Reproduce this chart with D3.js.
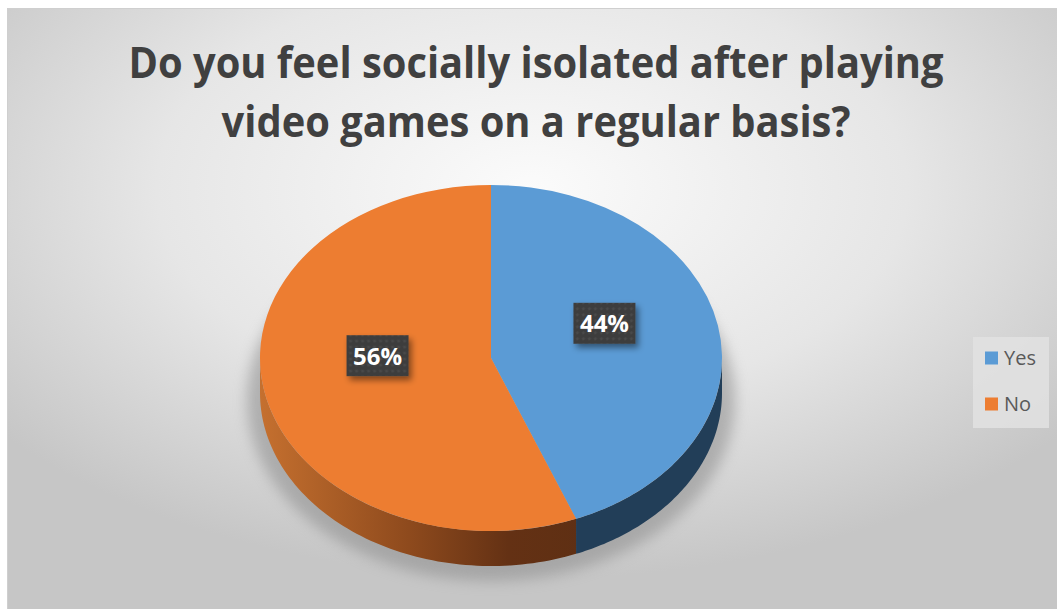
<!DOCTYPE html>
<html>
<head>
<meta charset="utf-8">
<script src="https://cdn.jsdelivr.net/npm/d3@7/dist/d3.min.js"></script>
<style>
  html, body { margin: 0; padding: 0; background: #ffffff; }
  svg { display: block; }
</style>
</head>
<body>
<svg id="chart" width="1057" height="609"></svg>
<script>
// Survey answers
const categories = ["Yes", "No"];
const values = [44, 56];
const titleLines = ["Do you feel socially isolated after playing", "video games on a regular basis?"];

const topColors = { Yes: "#5b9bd5", No: "#ed7d31" };

const W = 1057, H = 609;
const svg = d3.select("#chart");
const defs = svg.append("defs");

// Chart-area background: soft radial grey gradient
const bg = defs.append("radialGradient").attr("id", "bgGrad")
  .attr("cx", "50%").attr("cy", "30%").attr("r", "65%");
bg.append("stop").attr("offset", "0%").attr("stop-color", "#fbfbfb");
bg.append("stop").attr("offset", "55%").attr("stop-color", "#e6e6e6");
bg.append("stop").attr("offset", "100%").attr("stop-color", "#c6c6c6");

svg.append("rect").attr("x", 7).attr("y", 8).attr("width", W - 7).attr("height", H - 8)
  .attr("fill", "url(#bgGrad)");
svg.append("path").attr("d", `M7.5,${H} V8.5 H${W}`)
  .attr("fill", "none").attr("stroke", "#cfcfcf").attr("stroke-width", 1);

// Title (slightly condensed bold face)
const title = svg.append("g")
  .attr("transform", "translate(536,0) scale(0.927,1)")
  .append("text")
  .attr("text-anchor", "middle")
  .attr("font-family", "'Open Sans', sans-serif")
  .attr("font-weight", "bold")
  .attr("font-size", 43)
  .attr("fill", "#404040");
titleLines.forEach((t, i) => {
  title.append("tspan").attr("x", 0).attr("y", 78 + i * 59).text(t);
});

// Pie geometry (flattened ellipse with visible side wall)
const cx = 491, cy = 358, rx = 231, ry = 173, depth = 35;

const pie = d3.pie().sort(null).value(d => d.value);
const data = categories.map((c, i) => ({ name: c, value: values[i] }));
const arcs = pie(data);

const px = a => cx + rx * Math.sin(a);
const py = (a, dy = 0) => cy - ry * Math.cos(a) + dy;

// Soft shadow beneath the pie
const blur = defs.append("filter").attr("id", "pieShadow")
  .attr("x", "-20%").attr("y", "-20%").attr("width", "140%").attr("height", "140%");
blur.append("feGaussianBlur").attr("stdDeviation", 7);
svg.append("ellipse")
  .attr("cx", cx).attr("cy", cy + 42).attr("rx", rx + 13).attr("ry", ry + 8)
  .attr("fill", "#8a8a8a").attr("opacity", 0.55)
  .attr("filter", "url(#pieShadow)");

// Side wall gradients
const sideNo = defs.append("linearGradient").attr("id", "sideNo")
  .attr("gradientUnits", "userSpaceOnUse")
  .attr("x1", cx - rx).attr("y1", 0).attr("x2", cx + 100).attr("y2", 0);
sideNo.append("stop").attr("offset", "0%").attr("stop-color", "#c5702f");
sideNo.append("stop").attr("offset", "45%").attr("stop-color", "#8e4a1d");
sideNo.append("stop").attr("offset", "75%").attr("stop-color", "#643114");
sideNo.append("stop").attr("offset", "100%").attr("stop-color", "#5e2f13");
const sideColors = { Yes: "#223e58", No: "url(#sideNo)" };

// Side wall: only the front half (angles between PI/2 and 3PI/2) is visible
function sidePath(a0, a1) {
  const s = Math.max(a0, Math.PI / 2), e = Math.min(a1, 3 * Math.PI / 2);
  if (e <= s) return null;
  const n = 80, pts = [];
  for (let i = 0; i <= n; i++) { const a = s + (e - s) * i / n; pts.push([px(a), py(a)]); }
  for (let i = n; i >= 0; i--) { const a = s + (e - s) * i / n; pts.push([px(a), py(a, depth)]); }
  return d3.line()(pts) + "Z";
}

svg.append("g").selectAll("path").data(arcs).join("path")
  .attr("d", d => sidePath(d.startAngle, d.endAngle))
  .attr("fill", d => sideColors[d.data.name]);

// Top face: d3.arc drawn on a circle, squashed vertically into the ellipse
const arc = d3.arc().innerRadius(0).outerRadius(rx);
svg.append("g")
  .attr("transform", `translate(${cx},${cy}) scale(1,${ry / rx})`)
  .selectAll("path").data(arcs).join("path")
  .attr("d", arc)
  .attr("fill", d => topColors[d.data.name]);

// Data labels: dark textured boxes with drop shadow
const dots = defs.append("pattern").attr("id", "dots")
  .attr("width", 6).attr("height", 6).attr("patternUnits", "userSpaceOnUse");
dots.append("rect").attr("width", 6).attr("height", 6).attr("fill", "#3d3d3d");
dots.append("circle").attr("cx", 3).attr("cy", 3).attr("r", 1.4).attr("fill", "#4a4a4a");

const lblShadow = defs.append("filter").attr("id", "lblShadow")
  .attr("x", "-30%").attr("y", "-30%").attr("width", "170%").attr("height", "170%");
lblShadow.append("feDropShadow").attr("dx", 3).attr("dy", 4).attr("stdDeviation", 3)
  .attr("flood-color", "#000").attr("flood-opacity", 0.45);

const total = d3.sum(values);
const labels = svg.append("g").selectAll("g").data(arcs).join("g")
  .attr("transform", d => {
    const m = (d.startAngle + d.endAngle) / 2;
    return `translate(${cx + 0.5 * rx * Math.sin(m)},${cy - 0.5 * ry * Math.cos(m) - 18})`;
  });
labels.append("rect")
  .attr("x", -31).attr("y", -21).attr("width", 62).attr("height", 41)
  .attr("fill", "url(#dots)").attr("filter", "url(#lblShadow)");
labels.append("text")
  .attr("text-anchor", "middle").attr("dy", "0.35em")
  .attr("font-family", "'Open Sans', sans-serif").attr("font-weight", "bold")
  .attr("font-size", 24).attr("fill", "#ffffff")
  .text(d => Math.round(d.data.value / total * 100) + "%");

// Legend
const legend = svg.append("g");
legend.append("rect").attr("x", 973).attr("y", 337).attr("width", 76).attr("height", 91)
  .attr("fill", "#e2e2e2").attr("opacity", 0.85);
const items = legend.selectAll("g").data(categories).join("g")
  .attr("transform", (d, i) => `translate(985,${358 + i * 46})`);
items.append("rect").attr("x", 0).attr("y", -6.5).attr("width", 13).attr("height", 13)
  .attr("fill", d => topColors[d]);
items.append("text").attr("x", 19).attr("dy", "0.35em")
  .attr("font-family", "'Open Sans', sans-serif").attr("font-size", 20)
  .attr("fill", "#595959").text(d => d);
</script>
</body>
</html>
